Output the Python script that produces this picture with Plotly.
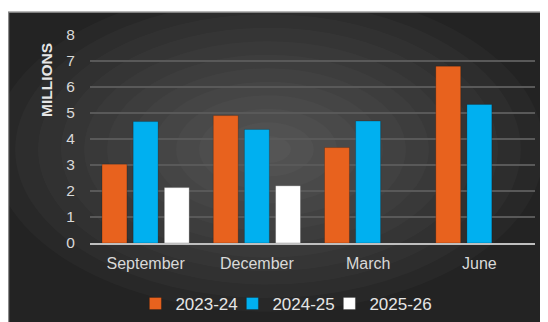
import plotly.graph_objects as go

months = ["September", "December", "March", "June"]
y2023_24 = [3.03, 4.9, 3.67, 6.8]
y2024_25 = [4.67, 4.37, 4.69, 5.33]
y2025_26 = [2.13, 2.2, None, None]
series_names = ["2023-24", "2024-25", "2025-26"]
y_ticks = [0, 1, 2, 3, 4, 5, 6, 7, 8]

colors = ["#E8621E", "#00B0F0", "#FFFFFF"]
font_family = "Arial, Liberation Sans, sans-serif"

fig = go.Figure()
for name, vals, col in zip(series_names, [y2023_24, y2024_25, y2025_26], colors):
    fig.add_trace(go.Bar(
        x=months, y=vals, name=name,
        marker=dict(color=col, line=dict(color="rgba(0,0,0,0.25)", width=0.8)),
    ))
# empty spacer entry so the last legend label isn't clipped
fig.add_trace(go.Scatter(x=[None], y=[None], mode="markers", name=" ",
                         marker=dict(color="rgba(0,0,0,0)", size=1,
                                     line=dict(width=0, color="rgba(0,0,0,0)")),
                         hoverinfo="skip"))

# soft radial glow on the dark panel, white strip + thin border at the top
shapes = []
cx, cy = 0.40, 0.45
for i in range(12):
    f = 1 - i / 12
    shapes.append(dict(type="circle", xref="paper", yref="paper",
                       x0=cx - 0.62 * f, x1=cx + 0.62 * f,
                       y0=cy - 0.78 * f, y1=cy + 0.78 * f,
                       fillcolor="rgba(255,255,255,0.023)",
                       line=dict(width=0), layer="below"))
shapes.append(dict(type="rect", xref="paper", yref="paper",
                   x0=-0.3, x1=1.3, y0=1.1106, y1=1.2,
                   fillcolor="white", line=dict(width=0), layer="below"))
shapes.append(dict(type="line", xref="paper", yref="paper",
                   x0=-0.19, x1=1.3, y0=1.1106, y1=1.1106,
                   line=dict(color="#a0a0a0", width=1.5), layer="below"))
shapes.append(dict(type="line", xref="paper", yref="paper",
                   x0=-0.1832, x1=-0.1832, y0=-0.5, y1=1.1106,
                   line=dict(color="#8a8a8a", width=1.5), layer="below"))

fig.update_layout(
    width=548, height=322,
    margin=dict(l=82, r=21, t=27, b=87, autoexpand=False),
    paper_bgcolor="#232323",
    plot_bgcolor="rgba(0,0,0,0)",
    barmode="group", bargap=0.16, bargroupgap=0.2,
    font=dict(family=font_family, color="#d9d9d9", size=15),
    shapes=shapes,
    showlegend=True,
    legend=dict(orientation="h", x=0.102, xanchor="left", y=-0.293, yanchor="middle",
                font=dict(size=17, color="#e6e6e6"), bgcolor="rgba(0,0,0,0)",
                itemwidth=30, entrywidth=52, tracegroupgap=0),
    annotations=[dict(text="<b>MILLIONS</b>", xref="paper", yref="paper",
                      x=-0.0966, y=0.784, xanchor="center", yanchor="middle",
                      textangle=-90, showarrow=False,
                      font=dict(size=15.5, color="#e6e6e6"))],
)
fig.update_xaxes(showgrid=False, showline=True, linecolor="#bfbfbf", linewidth=2,
                 ticks="outside", ticklen=5, tickcolor="rgba(0,0,0,0)",
                 tickfont=dict(size=16, color="#d9d9d9"), automargin=False)
fig.update_yaxes(range=[0, 8], tickvals=y_ticks, showgrid=True, gridcolor="#595959",
                 gridwidth=1.5, zeroline=False, showline=False,
                 ticks="outside", ticklen=11, tickcolor="rgba(0,0,0,0)",
                 tickfont=dict(size=15.5, color="#d9d9d9"), automargin=False)

fig.write_html("out.html")
